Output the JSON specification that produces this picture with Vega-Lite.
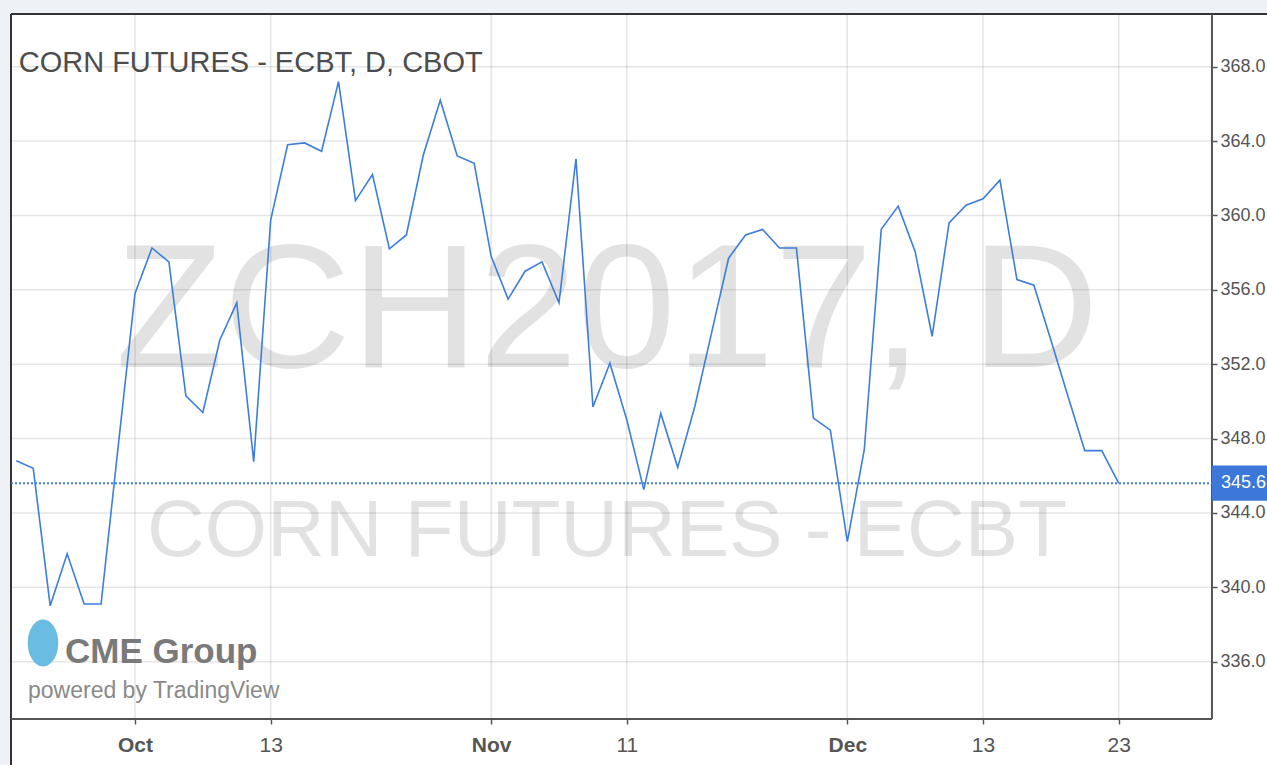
{
  "$schema": "https://vega.github.io/schema/vega-lite/v6.json",
  "width": 1256,
  "height": 751,
  "autosize": {"type": "none"},
  "padding": {"left": 11, "top": 14, "right": 0, "bottom": 0},
  "background": "#eef2f6",
  "config": {
    "view": {"fill": "white", "stroke": null},
    "font": "Liberation Sans, Arial, sans-serif"
  },
  "datasets": {
    "prices": [
      {"i": 0, "date": "2016-09-22", "price": 346.8},
      {"i": 1, "date": "2016-09-23", "price": 346.4},
      {"i": 2, "date": "2016-09-26", "price": 339.0},
      {"i": 3, "date": "2016-09-27", "price": 341.8},
      {"i": 4, "date": "2016-09-28", "price": 339.1},
      {"i": 5, "date": "2016-09-29", "price": 339.1},
      {"i": 6, "date": "2016-09-30", "price": 347.5},
      {"i": 7, "date": "2016-10-03", "price": 355.8},
      {"i": 8, "date": "2016-10-04", "price": 358.25},
      {"i": 9, "date": "2016-10-05", "price": 357.5},
      {"i": 10, "date": "2016-10-06", "price": 350.3},
      {"i": 11, "date": "2016-10-07", "price": 349.4},
      {"i": 12, "date": "2016-10-10", "price": 353.3},
      {"i": 13, "date": "2016-10-11", "price": 355.3},
      {"i": 14, "date": "2016-10-12", "price": 346.75},
      {"i": 15, "date": "2016-10-13", "price": 359.75},
      {"i": 16, "date": "2016-10-14", "price": 363.8},
      {"i": 17, "date": "2016-10-17", "price": 363.9},
      {"i": 18, "date": "2016-10-18", "price": 363.45},
      {"i": 19, "date": "2016-10-19", "price": 367.2},
      {"i": 20, "date": "2016-10-20", "price": 360.8},
      {"i": 21, "date": "2016-10-21", "price": 362.2},
      {"i": 22, "date": "2016-10-24", "price": 358.2},
      {"i": 23, "date": "2016-10-25", "price": 358.95},
      {"i": 24, "date": "2016-10-26", "price": 363.25},
      {"i": 25, "date": "2016-10-27", "price": 366.2},
      {"i": 26, "date": "2016-10-28", "price": 363.2},
      {"i": 27, "date": "2016-10-31", "price": 362.8},
      {"i": 28, "date": "2016-11-01", "price": 357.8},
      {"i": 29, "date": "2016-11-02", "price": 355.5},
      {"i": 30, "date": "2016-11-03", "price": 357.0},
      {"i": 31, "date": "2016-11-04", "price": 357.5},
      {"i": 32, "date": "2016-11-07", "price": 355.3},
      {"i": 33, "date": "2016-11-08", "price": 363.05},
      {"i": 34, "date": "2016-11-09", "price": 349.7},
      {"i": 35, "date": "2016-11-10", "price": 352.05},
      {"i": 36, "date": "2016-11-11", "price": 349.0},
      {"i": 37, "date": "2016-11-14", "price": 345.25},
      {"i": 38, "date": "2016-11-15", "price": 349.35},
      {"i": 39, "date": "2016-11-16", "price": 346.45},
      {"i": 40, "date": "2016-11-17", "price": 349.7},
      {"i": 41, "date": "2016-11-18", "price": 353.7},
      {"i": 42, "date": "2016-11-21", "price": 357.7},
      {"i": 43, "date": "2016-11-22", "price": 358.95},
      {"i": 44, "date": "2016-11-23", "price": 359.25},
      {"i": 45, "date": "2016-11-25", "price": 358.25},
      {"i": 46, "date": "2016-11-28", "price": 358.25},
      {"i": 47, "date": "2016-11-29", "price": 349.1},
      {"i": 48, "date": "2016-11-30", "price": 348.45},
      {"i": 49, "date": "2016-12-01", "price": 342.45},
      {"i": 50, "date": "2016-12-02", "price": 347.4},
      {"i": 51, "date": "2016-12-05", "price": 359.25},
      {"i": 52, "date": "2016-12-06", "price": 360.5},
      {"i": 53, "date": "2016-12-07", "price": 358.05},
      {"i": 54, "date": "2016-12-08", "price": 353.5},
      {"i": 55, "date": "2016-12-09", "price": 359.6},
      {"i": 56, "date": "2016-12-12", "price": 360.55},
      {"i": 57, "date": "2016-12-13", "price": 360.9},
      {"i": 58, "date": "2016-12-14", "price": 361.9},
      {"i": 59, "date": "2016-12-15", "price": 356.55},
      {"i": 60, "date": "2016-12-16", "price": 356.25},
      {"i": 61, "date": "2016-12-19", "price": 353.3},
      {"i": 62, "date": "2016-12-20", "price": 350.3},
      {"i": 63, "date": "2016-12-21", "price": 347.35},
      {"i": 64, "date": "2016-12-22", "price": 347.35},
      {"i": 65, "date": "2016-12-23", "price": 345.6}
    ],
    "ygrid": [{"v": 336}, {"v": 340}, {"v": 344}, {"v": 348}, {"v": 352}, {"v": 356}, {"v": 360}, {"v": 364}, {"v": 368}],
    "xgrid": [{"v": 7}, {"v": 15}, {"v": 28}, {"v": 36}, {"v": 49}, {"v": 57}, {"v": 65}],
    "one": [{"k": 1}]
  },
  "layer": [
    {
      "data": {"name": "prices"},
      "mark": {"type": "line", "color": "#3d7edb", "strokeWidth": 1.5, "opacity": 0},
      "encoding": {
        "x": {
          "field": "i", "type": "quantitative",
          "scale": {"domain": [-0.311, 73.745], "nice": false, "zero": false},
          "axis": {
            "orient": "bottom", "offset": -46, "title": null,
            "values": [7, 15, 28, 36, 49, 57, 65],
            "labelExpr": "datum.value == 7 ? 'Oct' : datum.value == 15 ? '13' : datum.value == 28 ? 'Nov' : datum.value == 36 ? '11' : datum.value == 49 ? 'Dec' : datum.value == 57 ? '13' : '23'",
            "grid": false, "domain": false, "ticks": true, "tickSize": 5, "tickColor": "#555", "tickWidth": 1.5,
            "labelFontSize": 21, "labelColor": "#555", "labelPadding": 10, "labelOverlap": false, "labelFlush": false,
            "labelFontWeight": {"condition": {"test": "datum.value == 7 || datum.value == 28 || datum.value == 49", "value": "bold"}, "value": "normal"}
          }
        },
        "y": {
          "field": "price", "type": "quantitative",
          "scale": {"domain": [330.44, 370.835], "nice": false, "zero": false},
          "axis": {
            "orient": "right", "offset": -55, "title": null,
            "values": [336, 340, 344, 348, 352, 356, 360, 364, 368],
            "format": ".1f", "grid": false, "domain": false, "tickSize": 5, "tickColor": "#555", "tickWidth": 1.5,
            "labelFontSize": 18, "labelColor": "#555", "labelPadding": 3, "labelOverlap": false, "labelFlush": false
          }
        }
      }
    },
    {
      "data": {"name": "one"},
      "mark": {"type": "text", "text": "ZCH2017, D", "fontSize": 177, "color": "#000", "opacity": 0.11, "align": "center", "baseline": "alphabetic"},
      "encoding": {
        "x": {"datum": 34.83, "type": "quantitative"},
        "y": {"datum": 351.85, "type": "quantitative"}
      }
    },
    {
      "data": {"name": "one"},
      "mark": {"type": "text", "text": "CORN FUTURES - ECBT", "fontSize": 80, "color": "#000", "opacity": 0.11, "align": "center", "baseline": "alphabetic"},
      "encoding": {
        "x": {"datum": 34.83, "type": "quantitative"},
        "y": {"datum": 341.68, "type": "quantitative"}
      }
    },
    {
      "data": {"name": "ygrid"},
      "mark": {"type": "rule", "color": "#000", "opacity": 0.1, "strokeWidth": 1.5},
      "encoding": {
        "y": {"field": "v", "type": "quantitative"},
        "x": {"datum": -0.311, "type": "quantitative"},
        "x2": {"datum": 70.5}
      }
    },
    {
      "data": {"name": "xgrid"},
      "mark": {"type": "rule", "color": "#000", "opacity": 0.1, "strokeWidth": 1.5},
      "encoding": {
        "x": {"field": "v", "type": "quantitative"},
        "y": {"datum": 332.91, "type": "quantitative"},
        "y2": {"datum": 370.835}
      }
    },
    {
      "data": {"name": "one"},
      "mark": {"type": "rule", "color": "#333", "strokeWidth": 2},
      "encoding": {
        "y": {"datum": 370.835, "type": "quantitative"},
        "x": {"datum": -0.311, "type": "quantitative"},
        "x2": {"datum": 73.745}
      }
    },
    {
      "data": {"name": "one"},
      "mark": {"type": "rule", "color": "#333", "strokeWidth": 2},
      "encoding": {
        "x": {"datum": -0.311, "type": "quantitative"},
        "y": {"datum": 330.44, "type": "quantitative"},
        "y2": {"datum": 370.835}
      }
    },
    {
      "data": {"name": "one"},
      "mark": {"type": "rule", "color": "#555", "strokeWidth": 2},
      "encoding": {
        "y": {"datum": 332.91, "type": "quantitative"},
        "x": {"datum": -0.311, "type": "quantitative"},
        "x2": {"datum": 70.5}
      }
    },
    {
      "data": {"name": "one"},
      "mark": {"type": "rule", "color": "#555", "strokeWidth": 2},
      "encoding": {
        "x": {"datum": 70.5, "type": "quantitative"},
        "y": {"datum": 332.91, "type": "quantitative"},
        "y2": {"datum": 370.835}
      }
    },
    {
      "data": {"name": "one"},
      "mark": {"type": "rule", "color": "#3d7edb", "strokeWidth": 2, "strokeDash": [2, 2]},
      "encoding": {
        "y": {"datum": 345.6, "type": "quantitative"},
        "x": {"datum": -0.311, "type": "quantitative"},
        "x2": {"datum": 70.5}
      }
    },
    {
      "data": {"name": "prices"},
      "mark": {"type": "line", "color": "#3d7edb", "strokeWidth": 1.6},
      "encoding": {
        "x": {"field": "i", "type": "quantitative"},
        "y": {"field": "price", "type": "quantitative"}
      }
    },
    {
      "data": {"name": "one"},
      "mark": {"type": "point", "shape": "M0,-1 A0.65,1 0 1,1 0,1 A0.65,1 0 1,1 0,-1 Z", "size": 2200, "filled": true, "color": "#62b8e2", "opacity": 0.95},
      "encoding": {
        "x": {"datum": 1.575, "type": "quantitative"},
        "y": {"datum": 337.0, "type": "quantitative"}
      }
    },
    {
      "data": {"name": "one"},
      "mark": {"type": "text", "text": "CME Group", "fontSize": 35, "fontWeight": "bold", "color": "#7a7a7a", "align": "left", "baseline": "alphabetic"},
      "encoding": {
        "x": {"datum": 2.873, "type": "quantitative"},
        "y": {"datum": 335.92, "type": "quantitative"}
      }
    },
    {
      "data": {"name": "one"},
      "mark": {"type": "text", "text": "powered by TradingView", "fontSize": 23, "color": "#8a8a8a", "align": "left", "baseline": "alphabetic"},
      "encoding": {
        "x": {"datum": 0.691, "type": "quantitative"},
        "y": {"datum": 334.04, "type": "quantitative"}
      }
    },
    {
      "data": {"name": "one"},
      "mark": {"type": "text", "text": "CORN FUTURES - ECBT, D, CBOT", "fontSize": 29, "color": "#4d4d4d", "align": "left", "baseline": "alphabetic"},
      "encoding": {
        "x": {"datum": 0.143, "type": "quantitative"},
        "y": {"datum": 367.71, "type": "quantitative"}
      }
    },
    {
      "data": {"name": "one"},
      "mark": {"type": "rect", "color": "#3b78d8"},
      "encoding": {
        "x": {"datum": 70.5, "type": "quantitative"},
        "x2": {"datum": 73.745},
        "y": {"datum": 344.65, "type": "quantitative"},
        "y2": {"datum": 346.55}
      }
    },
    {
      "data": {"name": "one"},
      "mark": {"type": "text", "text": "345.6", "fontSize": 18, "color": "white", "align": "left", "baseline": "middle"},
      "encoding": {
        "x": {"datum": 71.03, "type": "quantitative"},
        "y": {"datum": 345.6, "type": "quantitative"}
      }
    }
  ]
}
